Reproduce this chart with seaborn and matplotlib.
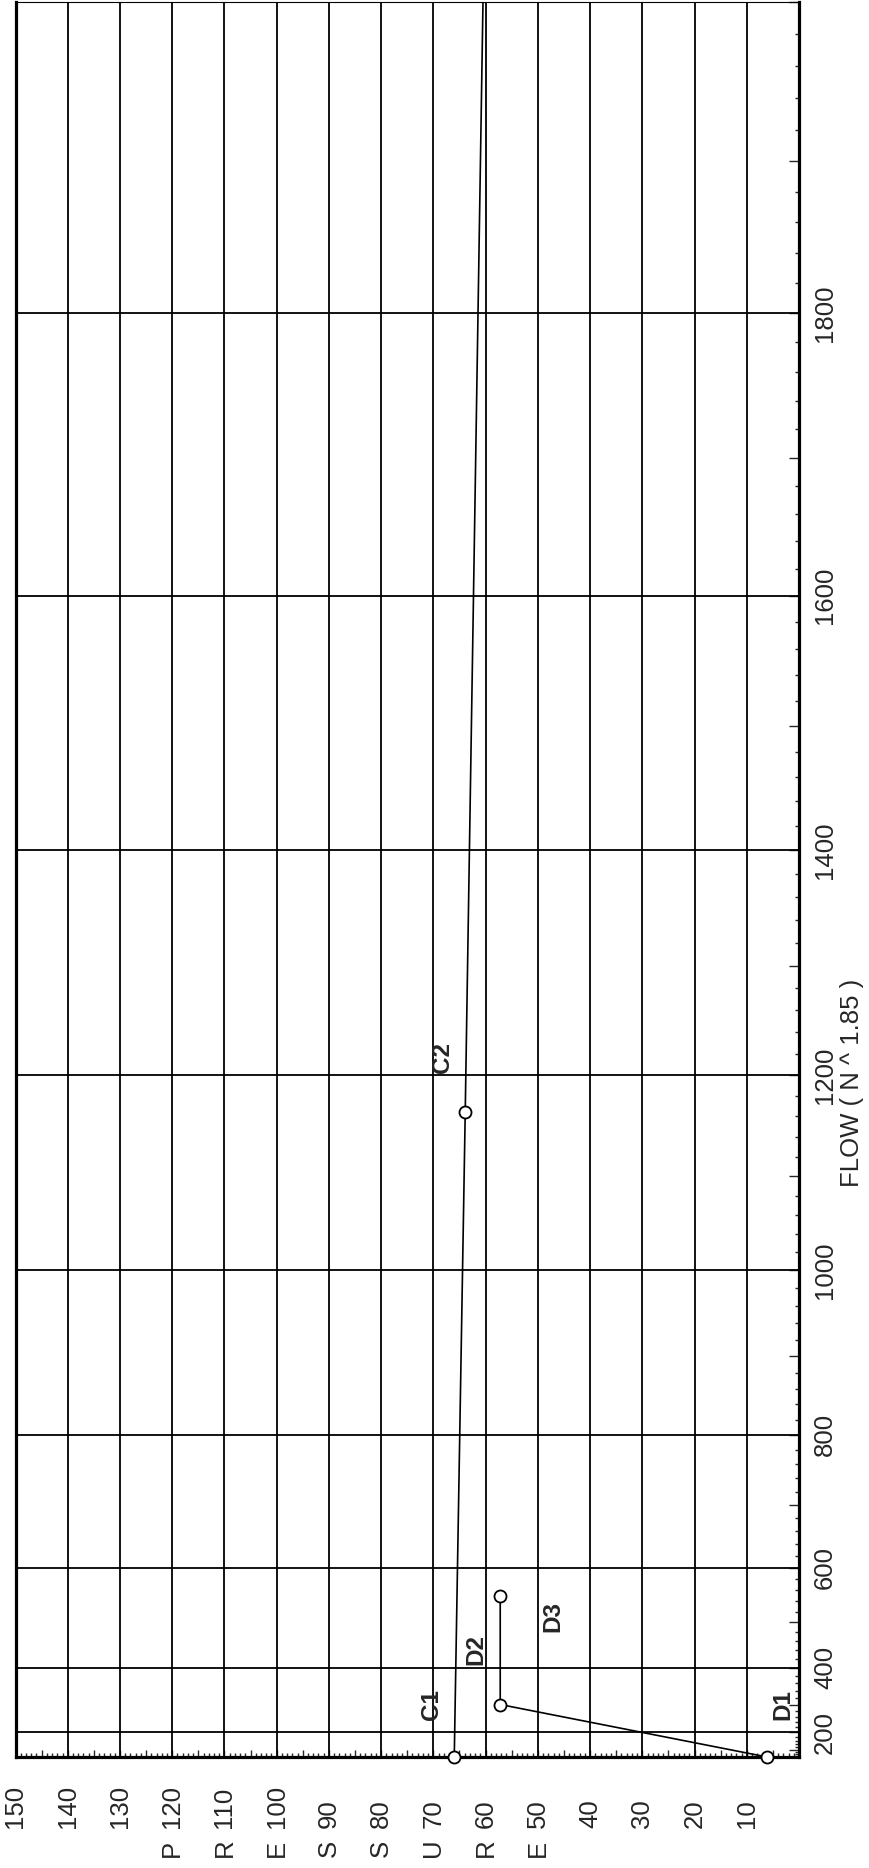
import numpy as np
import matplotlib
matplotlib.use("Agg")
import matplotlib.pyplot as plt
import seaborn as sns
from matplotlib.ticker import MultipleLocator, FuncFormatter
from matplotlib.transforms import blended_transform_factory

# --- data (flow in gpm on an N^1.85 scale, pressure in psi) ---
demand_flow = [0, 300, 550]
demand_pressure = [6.1, 57.2, 57.2]
demand_names = ["D1", "D2", "D3"]
demand_label_flow = [300, 443, 510]
demand_label_pressure = [3.0, 61.8, 47.2]

supply_flow = [0, 1164]
supply_pressure = [66.0, 63.9]
supply_names = ["C1", "C2"]
supply_label_flow = [300, 1216]
supply_label_pressure = [70.4, 68.3]
supply_line_flow = [0, 1164, 2000]
supply_line_pressure = [66.0, 63.9, 60.5]

flow_grid = [200, 400, 600, 800, 1000, 1200, 1400, 1600, 1800]
pressure_grid = list(range(10, 150, 10))
pressure_labels = list(range(150, 0, -10))
pressure_letters = list("PRESSURE")
letter_positions = [120, 110, 100, 90, 80, 70, 60, 50]

sns.set_style("white")
plt.rcParams["font.family"] = ["Liberation Sans", "DejaVu Sans"]

fig = plt.figure(figsize=(8.69, 18.68), dpi=100)
ax = fig.add_axes([15.5 / 869, 111 / 1868, 783.5 / 869, 1755 / 1868])

# lines
sns.lineplot(x=supply_line_pressure, y=supply_line_flow, sort=False, estimator=None,
             color="black", lw=1.2, ax=ax, zorder=3)
sns.lineplot(x=demand_pressure, y=demand_flow, sort=False, estimator=None,
             color="black", lw=1.2, ax=ax, zorder=3)
# points
sns.scatterplot(x=supply_pressure + demand_pressure, y=supply_flow + demand_flow,
                marker="o", s=75, facecolor="white", edgecolor="black",
                linewidth=1.3, ax=ax, zorder=4, clip_on=False)

# N^1.85 flow scale
def fwd(q):
    q = np.asarray(q, dtype=float)
    return np.sign(q) * np.abs(q) ** 1.85

def inv(v):
    v = np.asarray(v, dtype=float)
    return np.sign(v) * np.abs(v) ** (1 / 1.85)

ax.set_yscale("function", functions=(fwd, inv))
ax.set_ylim(0, 2000)
ax.set_xlim(150, 0)

# grid lines
ax.vlines(pressure_grid, 0, 2000, color="black", lw=1.3, zorder=1)
ax.hlines(flow_grid, 0, 150, color="black", lw=1.3, zorder=1)

# ticks
ax.xaxis.set_major_locator(MultipleLocator(5))
ax.xaxis.set_minor_locator(MultipleLocator(1))
ax.yaxis.set_major_locator(MultipleLocator(100))
ax.yaxis.set_minor_locator(MultipleLocator(20))
ax.yaxis.tick_right()
ax.yaxis.set_major_formatter(FuncFormatter(
    lambda v, p: f"{int(round(v))}" if int(round(v)) in flow_grid else ""))
ax.tick_params(axis="x", which="major", direction="in", length=5, width=1,
               bottom=True, top=False, labelbottom=False)
ax.tick_params(axis="x", which="minor", direction="in", length=3, width=1,
               bottom=True, top=False)
ax.tick_params(axis="y", which="major", direction="in", length=7, width=1,
               right=True, left=False, labelright=True, labelleft=False,
               labelsize=18.5, pad=10, labelrotation=90)
ax.tick_params(axis="y", which="minor", direction="in", length=3, width=1,
               right=True, left=False)
for lab in ax.get_yticklabels():
    lab.set_va("center")

for side in ["left", "bottom", "right"]:
    ax.spines[side].set_linewidth(2.3)
    ax.spines[side].set_color("black")
ax.spines["top"].set_linewidth(0.8)
ax.spines["top"].set_color("black")
ax.set_xlabel("")
ax.set_ylabel("")

# pressure labels, drawn below the axis and rotated like the page
trans = blended_transform_factory(ax.transData, ax.transAxes)
for p in pressure_labels:
    ax.text(p, -0.0405, str(p), transform=trans, rotation=90, ha="center",
            va="bottom", fontsize=18.5)
for p, ch in zip(letter_positions, pressure_letters):
    ax.text(p, -0.057, ch, transform=trans, rotation=90, ha="center",
            va="bottom", fontsize=18.5)

ax.text(1.068, 0.384, "FLOW ( N ^ 1.85 )", transform=ax.transAxes, rotation=90,
        ha="center", va="center", fontsize=18.5)

# point names
for name, p, q in zip(supply_names + demand_names,
                      supply_label_pressure + demand_label_pressure,
                      supply_label_flow + demand_label_flow):
    ax.text(p, q, name, rotation=90, ha="center", va="center",
            fontsize=17.5, fontweight="bold", zorder=5)

fig.savefig("out.png", dpi=100)
